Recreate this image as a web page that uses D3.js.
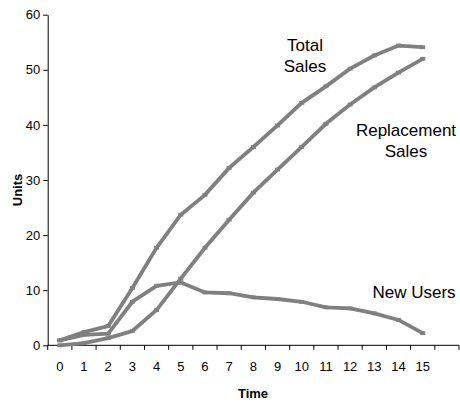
<!DOCTYPE html>
<html><head><meta charset="utf-8">
<script src="https://cdn.jsdelivr.net/npm/d3@7"></script>
<style>
html,body{margin:0;padding:0;background:#fff;}
text{font-family:"Liberation Sans",Arial,sans-serif;}
</style></head>
<body><svg id="c" width="460" height="404"></svg>
<script>
const periods = ["0","1","2","3","4","5","6","7","8","9","10","11","12","13","14","15",""];
const yTicks = [0,10,20,30,40,50,60];
const totalSales = [0.9,2.4,3.5,10.4,17.7,23.7,27.3,32.2,36.0,39.9,44.0,47.0,50.2,52.6,54.4,54.1];
const replacementSales = [0.0,0.4,1.3,2.6,6.4,12.1,17.7,22.8,27.7,31.9,36.0,40.2,43.7,46.8,49.5,52.0];
const newUsers = [0.9,1.9,2.1,7.9,10.8,11.4,9.6,9.45,8.7,8.4,7.9,6.9,6.7,5.8,4.6,2.2];
const seriesLabels = [
  {lines:["Total","Sales"], x:305, y:45},
  {lines:["Replacement","Sales"], x:406, y:130},
  {lines:["New Users"], x:414, y:292}
];

const svg = d3.select("#c");
const x = d3.scaleBand().domain(periods.map((d,i)=>i)).range([47.7,459]).padding(0);
const y = d3.scaleLinear().domain([0,60]).range([345.3,14.7]);

// y axis
const ya = svg.append("g").attr("transform","translate(47.7,0)")
  .call(d3.axisLeft(y).tickValues(yTicks).tickSize(4.5).tickPadding(3).tickSizeOuter(0));
ya.select(".domain").attr("stroke","#000");
ya.selectAll("line").attr("stroke","#000");
ya.selectAll("text").attr("font-size",13).attr("fill","#000").attr("font-family","Liberation Sans, Arial, sans-serif");

// x axis
const xg = svg.append("g").attr("transform","translate(0,345.3)");
xg.append("line").attr("x1",47.7).attr("x2",459).attr("stroke","#000");
const bounds = d3.range(periods.length+1).map(i=> i<periods.length ? x(i) : x(periods.length-1)+x.bandwidth());
xg.selectAll("line.t").data(bounds).enter().append("line").attr("class","t")
  .attr("x1",d=>d).attr("x2",d=>d).attr("y1",0).attr("y2",4.5).attr("stroke","#000");
xg.selectAll("text").data(periods).enter().append("text")
  .attr("x",(d,i)=>x(i)+x.bandwidth()/2).attr("y",26)
  .attr("text-anchor","middle").attr("font-size",13).attr("fill","#000").text(d=>d);

// axis titles
svg.append("text").attr("transform","translate(22,190) rotate(-90)")
  .attr("text-anchor","middle").attr("font-size",13).attr("font-weight","bold").text("Units");
svg.append("text").attr("x",253).attr("y",398)
  .attr("text-anchor","middle").attr("font-size",13).attr("font-weight","bold").text("Time");

// lines
const line = d3.line().x((d,i)=>x(i)+x.bandwidth()/2).y(d=>y(d));
const color = "#808080";
[newUsers, replacementSales, totalSales].forEach(s=>{
  svg.append("path").datum(s).attr("d",line).attr("fill","none")
    .attr("stroke",color).attr("stroke-width",3.8).attr("stroke-linejoin","miter");
  svg.append("g").selectAll("rect").data(s).enter().append("rect")
    .attr("x",(d,i)=>x(i)+x.bandwidth()/2-2.5).attr("y",d=>y(d)-1.9)
    .attr("width",5).attr("height",3.8).attr("fill",color);
});

// series labels
seriesLabels.forEach(l=>{
  const t = svg.append("text").attr("text-anchor","middle").attr("font-size",17).attr("fill","#000");
  l.lines.forEach((s,i)=>t.append("tspan").attr("x",l.x).attr("y",l.y+6+i*21).text(s));
});
</script></body></html>
